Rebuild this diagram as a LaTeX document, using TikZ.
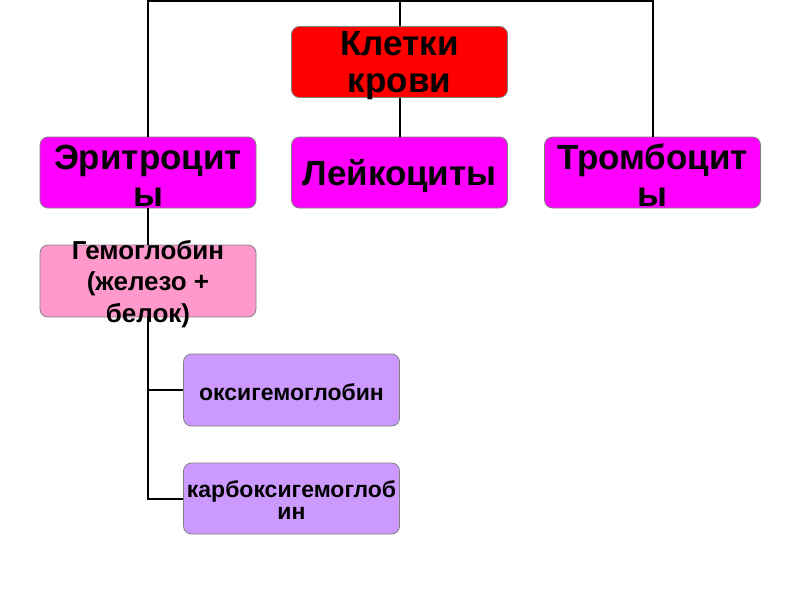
\documentclass[tikz,border=0pt]{standalone}
\usepackage{fontspec}
\setmainfont{Liberation Sans}
\definecolor{mag}{RGB}{255,0,255}
\definecolor{rd}{RGB}{255,0,0}
\definecolor{pnk}{RGB}{255,153,204}
\definecolor{lav}{RGB}{204,153,255}
\begin{document}
\begin{tikzpicture}[x=1pt,y=-1pt,
  box/.style={draw=black!50,line width=0.8pt,rounded corners=8pt,minimum width=216pt,minimum height=71pt,inner sep=0pt},
  big/.style={font=\bfseries\fontsize{35}{37}\selectfont,align=center,inner sep=0pt,anchor=base},
  mid/.style={font=\bfseries\fontsize{26}{31.5}\selectfont,align=center,inner sep=0pt,anchor=base},
  small/.style={font=\bfseries\fontsize{23}{22}\selectfont,align=center,inner sep=0pt,anchor=base},
  conn/.style={line width=2pt}]
\useasboundingbox (0,0) rectangle (800,600);
\fill[white] (0,0) rectangle (800,600);
% boxes
\node[box,fill=rd] (kl) at (399.5,62) {};
\node[box,fill=mag] (ery) at (148,172.5) {};
\node[box,fill=mag] (leik) at (399.5,172.5) {};
\node[box,fill=mag] (tromb) at (652.5,172.5) {};
\node[box,fill=pnk,minimum height=72pt] (gem) at (148,281) {};
\node[box,fill=lav,minimum height=72pt] (oxy) at (291.5,390) {};
\node[box,fill=lav] (carb) at (291.5,498.5) {};
% connectors
\coordinate (topline) at (400,1);
\draw[conn] (ery.north) -- (ery.north |- topline) -- (tromb.north |- topline) -- (tromb.north);
\draw[conn] (kl.north) -- (kl.north |- topline);
\draw[conn] (kl.south) -- (leik.north);
\draw[conn] (ery.south) -- (gem.north);
\draw[conn] (gem.south) |- (oxy.west);
\draw[conn] (gem.south) |- (carb.west);
% texts
\node[big] (klt) at ([yshift=-30pt]kl.center) {Клетки\\крови};
\node[big] (eryt) at ([yshift=-33.5pt]ery.center) {Эритроцит\\ы};
\node[big] (leikt) at ([yshift=-12.5pt]leik.center) {Лейкоциты};
\node[big] (trombt) at ([yshift=-33.5pt]tromb.center) {Тромбоцит\\ы};
\node[mid] (gemt) at ([yshift=-41pt]gem.center) {Гемоглобин\\(железо +\\белок)};
\node[small] (oxyt) at ([yshift=-10pt]oxy.center) {оксигемоглобин};
\node[small] (carbt) at ([yshift=-20.5pt]carb.center) {карбоксигемоглоб\\ин};
\end{tikzpicture}
\end{document}
